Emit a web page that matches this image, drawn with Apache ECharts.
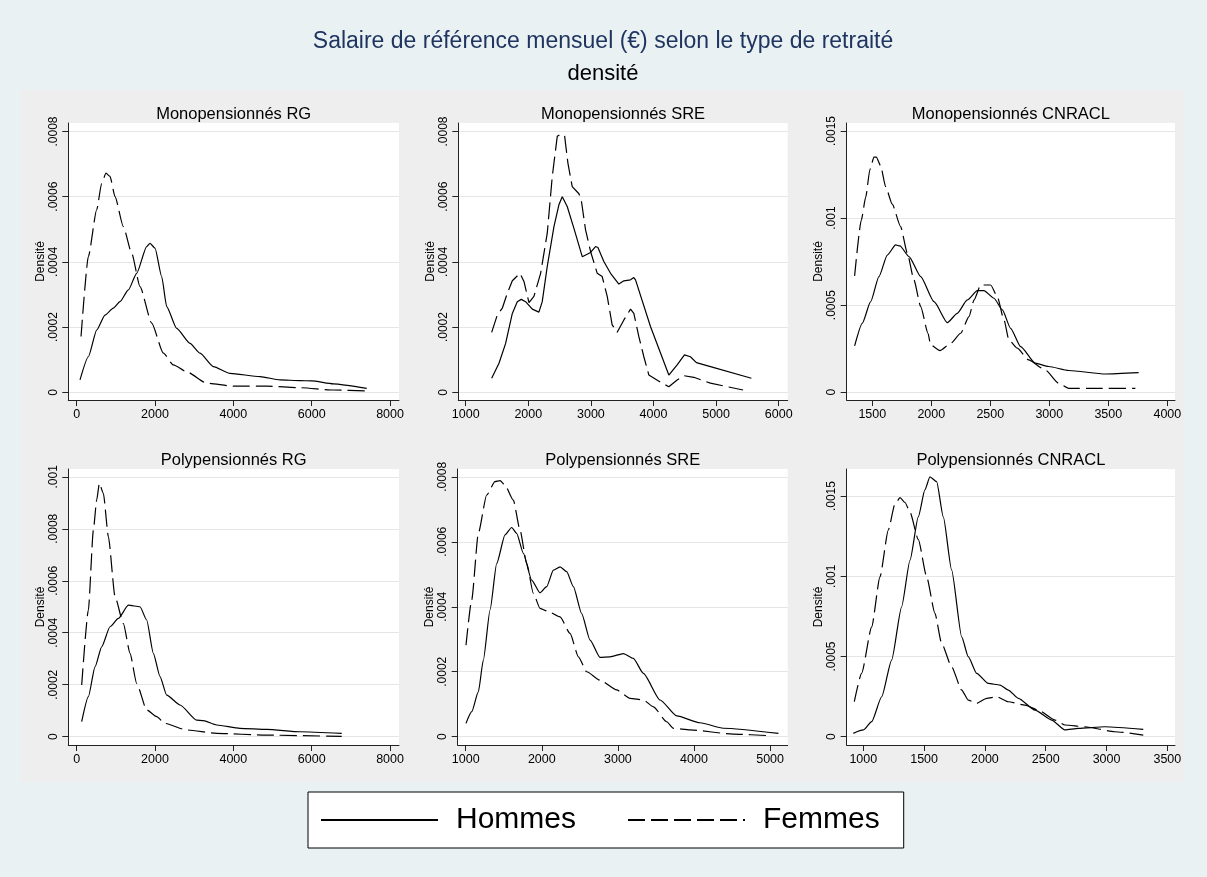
<!DOCTYPE html>
<html>
<head>
<meta charset="utf-8">
<script src="https://cdn.jsdelivr.net/npm/echarts@6/dist/echarts.min.js"></script>
<style>
html,body{margin:0;padding:0;background:#e9f1f3;}
#chart{width:1207px;height:877px;}
</style>
</head>
<body>
<div id="chart"></div>
<script>
// ---------------- DATA ----------------
const mainTitle = 'Salaire de référence mensuel (€) selon le type de retraité';
const subTitle = 'densité';
const yName = 'Densité';
const seriesNames = ['Hommes', 'Femmes'];
const panelTitles = ['Monopensionnés RG', 'Monopensionnés SRE', 'Monopensionnés CNRACL',
                     'Polypensionnés RG', 'Polypensionnés SRE', 'Polypensionnés CNRACL'];

const xTicksRG = [0, 2000, 4000, 6000, 8000];
const xTicksMonoSRE = [1000, 2000, 3000, 4000, 5000, 6000];
const xTicksMonoCNRACL = [1500, 2000, 2500, 3000, 3500, 4000];
const xTicksPolySRE = [1000, 2000, 3000, 4000, 5000];
const xTicksPolyCNRACL = [1000, 1500, 2000, 2500, 3000, 3500];
const yTicks0008 = [0, 0.0002, 0.0004, 0.0006, 0.0008];
const yTicks0015 = [0, 0.0005, 0.001, 0.0015];
const yTicks001 = [0, 0.0002, 0.0004, 0.0006, 0.0008, 0.001];

const monoRG_H = [[85,0.000038],[298,0.000109],[511,0.000191],[723,0.000237],[936,0.000258],[1106,0.000278],[1319,0.000314],[1532,0.000365],[1787,0.000447],[1872,0.000457],[2000,0.000442],[2170,0.000355],[2298,0.000263],[2553,0.000196],[2894,0.000150],[3149,0.000120],[3489,0.000079],[3915,0.000058],[4681,0.000048],[5191,0.000038],[5702,0.000036],[6000,0.000035],[6553,0.000026],[7404,0.000012]];
const monoRG_F = [[111,0.000171],[298,0.000416],[511,0.000560],[638,0.000641],[749,0.000672],[851,0.000662],[979,0.000600],[1191,0.000508],[1404,0.000427],[1617,0.000324],[1915,0.000212],[2213,0.000120],[2468,0.000084],[2809,0.000063],[3319,0.000028],[4000,0.000019],[4851,0.000019],[5702,0.000014],[6553,0.000007],[7404,0.000004]];

const monoSRE_H = [[1415,0.000043],[1532,0.000089],[1638,0.000150],[1745,0.000242],[1824,0.000278],[1888,0.000285],[1957,0.000278],[2064,0.000255],[2170,0.000246],[2223,0.000278],[2303,0.000386],[2410,0.000508],[2489,0.000575],[2543,0.000600],[2622,0.000570],[2729,0.000503],[2862,0.000416],[2995,0.000429],[3074,0.000447],[3112,0.000444],[3207,0.000401],[3314,0.000365],[3447,0.000332],[3527,0.000342],[3633,0.000345],[3686,0.000352],[3713,0.000345],[3952,0.000202],[4245,0.000053],[4378,0.000084],[4495,0.000115],[4590,0.000109],[4686,0.000091],[4910,0.000079],[5564,0.000043]];
const monoSRE_F = [[1415,0.000184],[1505,0.000237],[1585,0.000258],[1665,0.000304],[1745,0.000342],[1867,0.000365],[1931,0.000340],[2011,0.000275],[2090,0.000294],[2197,0.000365],[2303,0.000488],[2383,0.000662],[2463,0.000785],[2516,0.000792],[2580,0.000787],[2633,0.000703],[2702,0.000631],[2809,0.000609],[2846,0.000590],[2915,0.000498],[2995,0.000432],[3101,0.000365],[3181,0.000355],[3261,0.000294],[3340,0.000207],[3420,0.000184],[3527,0.000222],[3633,0.000255],[3686,0.000242],[3766,0.000171],[3846,0.000109],[3926,0.000053],[4112,0.000031],[4245,0.000017],[4378,0.000038],[4484,0.000051],[4644,0.000046],[4910,0.000028],[5431,0.000007]];

const monoCNRACL_H = [[1350,0.000266],[1415,0.000396],[1486,0.000520],[1556,0.000664],[1627,0.000788],[1698,0.000846],[1734,0.000840],[1811,0.000779],[1910,0.000664],[2023,0.000520],[2136,0.000400],[2220,0.000453],[2305,0.000530],[2390,0.000584],[2446,0.000584],[2531,0.000540],[2602,0.000473],[2672,0.000367],[2757,0.000262],[2881,0.000167],[2994,0.000148],[3164,0.000125],[3475,0.000105],[3757,0.000113]];
const monoCNRACL_F = [[1350,0.000668],[1407,0.000989],[1444,0.00112],[1480,0.00128],[1514,0.00135],[1534,0.00135],[1571,0.00130],[1613,0.00118],[1669,0.00108],[1740,0.000951],[1797,0.000798],[1853,0.000645],[1910,0.000492],[1972,0.000339],[1994,0.000272],[2073,0.000239],[2164,0.000281],[2249,0.000339],[2319,0.000434],[2362,0.000530],[2418,0.000616],[2503,0.000616],[2559,0.000549],[2616,0.000415],[2658,0.000300],[2729,0.000253],[2824,0.000186],[2966,0.000128],[3079,0.000052],[3164,0.000023],[3390,0.000023],[3729,0.000023]];

const polyRG_H = [[128,0.000058],[298,0.000154],[468,0.000269],[638,0.000346],[851,0.000423],[1064,0.000455],[1319,0.000506],[1617,0.000500],[1787,0.000449],[1957,0.000321],[2128,0.000231],[2298,0.000160],[2638,0.000122],[3064,0.000064],[3234,0.000062],[3574,0.000045],[4170,0.000032],[4851,0.000028],[5702,0.000019],[6766,0.000013]];
const polyRG_F = [[128,0.000199],[298,0.000487],[426,0.000795],[511,0.000911],[579,0.000975],[681,0.000936],[809,0.000770],[979,0.000539],[1191,0.000436],[1362,0.000321],[1532,0.000205],[1787,0.000103],[2043,0.000077],[2255,0.000051],[2809,0.000026],[3574,0.000013],[4851,0.000006],[6766,0.000001]];

const polySRE_H = [[1004,0.000041],[1079,0.000077],[1166,0.000138],[1232,0.000236],[1320,0.000390],[1407,0.000533],[1517,0.000621],[1604,0.000644],[1670,0.000626],[1758,0.000564],[1867,0.000482],[1977,0.000443],[2064,0.000462],[2152,0.000513],[2240,0.000523],[2327,0.000508],[2415,0.000462],[2524,0.000379],[2634,0.000297],[2765,0.000244],[2897,0.000246],[3072,0.000256],[3203,0.000241],[3335,0.000195],[3554,0.000113],[3773,0.000064],[4079,0.000043],[4386,0.000026],[5109,0.000010]];
const polySRE_F = [[1004,0.000282],[1079,0.000421],[1166,0.000626],[1276,0.000744],[1385,0.000785],[1451,0.000788],[1517,0.000774],[1626,0.000728],[1714,0.000636],[1802,0.000533],[1889,0.000441],[1977,0.000395],[2086,0.000385],[2240,0.000369],[2371,0.000318],[2481,0.000246],[2590,0.000200],[2765,0.000174],[2984,0.000144],[3159,0.000118],[3335,0.000113],[3466,0.000092],[3641,0.000046],[3729,0.000026],[3948,0.000021],[4517,0.000008],[5000,0.000003]];

const polyCNRACL_H = [[918,0.000021],[1000,0.000042],[1069,0.000094],[1151,0.000249],[1233,0.000478],[1315,0.000810],[1384,0.00110],[1452,0.00137],[1507,0.00154],[1548,0.00162],[1603,0.00159],[1658,0.00137],[1726,0.00104],[1809,0.000623],[1863,0.000499],[1932,0.000395],[2028,0.000332],[2124,0.000322],[2192,0.000291],[2275,0.000239],[2412,0.000166],[2549,0.000104],[2658,0.000042],[2768,0.000052],[2987,0.000062],[3302,0.000046]];
const polyCNRACL_F = [[926,0.000218],[986,0.000395],[1069,0.000685],[1137,0.000997],[1206,0.00129],[1260,0.00145],[1302,0.00149],[1343,0.00146],[1384,0.00140],[1452,0.00123],[1521,0.000997],[1589,0.000769],[1644,0.000582],[1726,0.000436],[1809,0.000291],[1863,0.000228],[1932,0.000208],[2014,0.000239],[2096,0.000249],[2192,0.000218],[2329,0.000197],[2439,0.000166],[2576,0.000104],[2658,0.000073],[2823,0.000062],[3069,0.000031],[3302,0.000010]];

// ---------------- LAYOUT ----------------
const FONT = '"Liberation Sans", Arial, Helvetica, sans-serif';
const panels = [
  {title: panelTitles[0], h: monoRG_H, f: monoRG_F, xt: xTicksRG, yt: yTicks0008,
   rect: [68.3, 123, 330.7, 277], xr: [-214, 8229], yr: [-0.0000236, 0.000826], smooth: 0.2},
  {title: panelTitles[1], h: monoSRE_H, f: monoSRE_F, xt: xTicksMonoSRE, yt: yTicks0008,
   rect: [458.3, 123, 329.4, 277], xr: [882, 6144], yr: [-0.0000236, 0.000826], smooth: 0},
  {title: panelTitles[2], h: monoCNRACL_H, f: monoCNRACL_F, xt: xTicksMonoCNRACL, yt: yTicks0015,
   rect: [846.7, 123, 328.3, 277], xr: [1283, 4065], yr: [-0.0000443, 0.001546], smooth: 0.2},
  {title: panelTitles[3], h: polyRG_H, f: polyRG_F, xt: xTicksRG, yt: yTicks001,
   rect: [68.3, 469, 330.7, 276], xr: [-214, 8229], yr: [-0.0000319, 0.00103], smooth: 0.2},
  {title: panelTitles[4], h: polySRE_H, f: polySRE_F, xt: xTicksPolySRE, yt: yTicks0008,
   rect: [457.7, 469, 330, 276], xr: [895, 5231], yr: [-0.0000255, 0.000824], smooth: 0.2},
  {title: panelTitles[5], h: polyCNRACL_H, f: polyCNRACL_F, xt: xTicksPolyCNRACL, yt: yTicks0015,
   rect: [846.7, 469, 328.3, 276], xr: [863.5, 3563], yr: [-0.0000517, 0.001669], smooth: 0.2}
];

const fmtY = v => (v === 0 ? '0' : String(v).replace(/^0/, ''));
const fmtX = v => String(v);
const axisColor = '#222';
const titles = [
  {text: mainTitle, left: 598, top: 25, textAlign: 'center',
   textStyle: {fontFamily: FONT, fontSize: 23, fontWeight: 'normal', color: '#1f3560'}},
  {text: subTitle, left: 598, top: 58, textAlign: 'center',
   textStyle: {fontFamily: FONT, fontSize: 22, fontWeight: 'normal', color: '#000'}}
];
const grids = [], xAxes = [], yAxes = [], series = [];
panels.forEach((p, i) => {
  const [l, t, w, h] = p.rect;
  titles.push({text: p.title, left: l + w / 2 - 5, top: t - 22, textAlign: 'center',
    textStyle: {fontFamily: FONT, fontSize: 16.5, fontWeight: 'normal', color: '#000'}});
  grids.push({left: l, top: t, width: w, height: h, show: true, backgroundColor: '#fff',
    borderWidth: 0, containLabel: false, outerBoundsMode: 'none'});
  xAxes.push({type: 'value', gridIndex: i, min: p.xr[0], max: p.xr[1],
    axisLine: {show: true, onZero: false, lineStyle: {color: axisColor, width: 1}},
    axisTick: {show: true, length: 6, customValues: p.xt, lineStyle: {color: axisColor}},
    axisLabel: {customValues: p.xt, margin: 8, fontFamily: FONT, fontSize: 12.5, color: '#000',
      formatter: fmtX},
    splitLine: {show: false}});
  yAxes.push({type: 'value', gridIndex: i, min: p.yr[0], max: p.yr[1],
    name: yName, nameLocation: 'middle', nameRotate: 90, nameGap: 21,
    nameTextStyle: {fontFamily: FONT, fontSize: 12, color: '#000'},
    axisLine: {show: true, onZero: false, lineStyle: {color: axisColor, width: 1}},
    axisTick: {show: true, length: 6, customValues: p.yt, lineStyle: {color: axisColor}},
    axisLabel: {customValues: p.yt, rotate: 90, margin: 9, fontFamily: FONT, fontSize: 12,
      color: '#000', formatter: fmtY},
    splitLine: {show: true, lineStyle: {color: '#e6e6e6', width: 1}}});
  series.push({type: 'line', name: seriesNames[0], xAxisIndex: i, yAxisIndex: i, data: p.h,
    symbol: 'none', smooth: p.smooth, smoothMonotone: 'x', silent: true,
    lineStyle: {color: '#000', width: 1.2, type: 'solid'}, itemStyle: {color: '#000'}});
  series.push({type: 'line', name: seriesNames[1], xAxisIndex: i, yAxisIndex: i, data: p.f,
    symbol: 'none', smooth: p.smooth, smoothMonotone: 'x', silent: true,
    lineStyle: {color: '#000', width: 1.2, type: [17, 6]}, itemStyle: {color: '#000'}});
});

const chart = echarts.init(document.getElementById('chart'), null, {renderer: 'canvas'});
chart.setOption({
  backgroundColor: '#e9f1f3',
  animation: false,
  textStyle: {fontFamily: FONT},
  title: titles,
  graphic: {elements: [
    {type: 'rect', z: -100, silent: true, shape: {x: 21, y: 90, width: 1164, height: 692},
     style: {fill: '#eeeeee'}}
  ]},
  legend: {
    data: seriesNames, left: 308, top: 792, orient: 'horizontal',
    padding: [12, 24, 12, 12], itemGap: 51, itemWidth: 117, itemHeight: 20,
    backgroundColor: '#fff', borderColor: '#000', borderWidth: 1, selectedMode: false,
    lineStyle: {width: 2},
    itemStyle: {opacity: 0, borderWidth: 0},
    textStyle: {fontFamily: FONT, fontSize: 30, color: '#000', padding: [0, 0, 0, 13], lineHeight: 32}
  },
  grid: grids, xAxis: xAxes, yAxis: yAxes, series: series
});
</script>
</body>
</html>
